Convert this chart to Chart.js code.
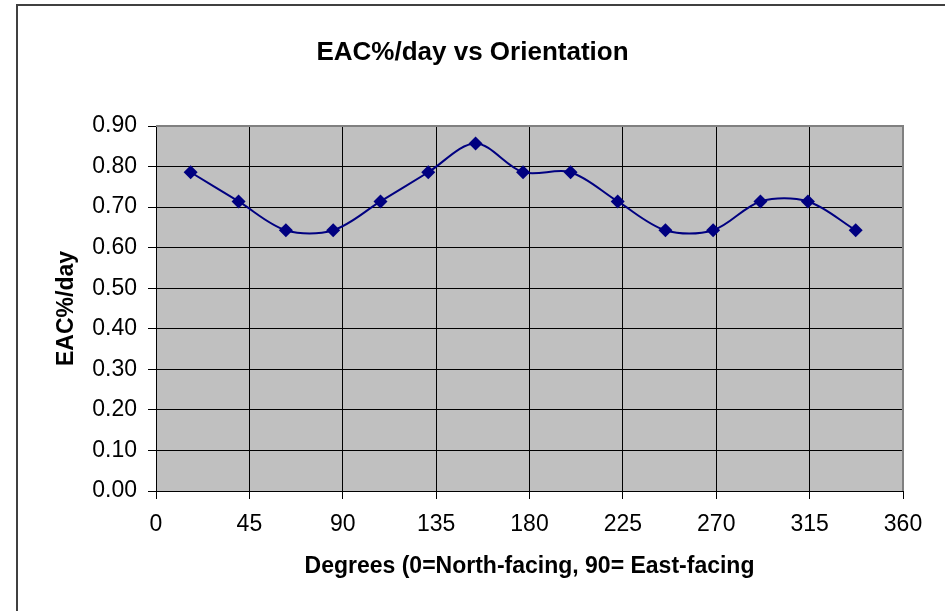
<!DOCTYPE html>
<html>
<head>
<meta charset="utf-8">
<script src="https://cdn.jsdelivr.net/npm/chart.js@4/dist/chart.umd.min.js"></script>
<style>
  body { margin: 0; background: #fff; }
  #wrap { width: 945px; height: 611px; }
</style>
</head>
<body>
<div id="wrap"><canvas id="orientChart" width="945" height="611"></canvas></div>
<script>
// orientation in degrees (0 = north-facing)
var degrees = [16.7, 39.8, 62.6, 85.4, 108.2, 131.2, 154, 176.9, 199.8, 222.5, 245.5, 268.5, 291.3, 314.2, 337.2];
// EAC%/day
var eacPerDay = [0.786, 0.714, 0.643, 0.643, 0.714, 0.786, 0.857, 0.786, 0.786, 0.714, 0.643, 0.643, 0.714, 0.714, 0.643];
var xTicks = [0, 45, 90, 135, 180, 225, 270, 315, 360];
var yTicks = [0, 0.1, 0.2, 0.3, 0.4, 0.5, 0.6, 0.7, 0.8, 0.9];

var chartTitle = 'EAC%/day vs Orientation';
var xTitle = 'Degrees (0=North-facing, 90= East-facing';
var yTitle = 'EAC%/day';

var FONT = "'Liberation Sans', Arial, sans-serif";

var points = degrees.map(function (d, i) {
    return { x: d, y: eacPerDay[i] };
});

// grey plot background, frame round the chart and the title
var excelLook = {
    id: 'excelLook',
    beforeDraw: function (chart) {
        var ctx = chart.ctx, a = chart.chartArea;
        ctx.save();
        ctx.fillStyle = '#fff';
        ctx.fillRect(0, 0, chart.width, chart.height);
        ctx.fillStyle = '#c0c0c0';
        ctx.fillRect(a.left, a.top, a.right - a.left, a.bottom - a.top);
        ctx.restore();
    },
    afterDraw: function (chart) {
        var ctx = chart.ctx, a = chart.chartArea;
        ctx.save();
        // plot area top/right edge
        ctx.strokeStyle = '#808080';
        ctx.lineWidth = 2;
        ctx.beginPath();
        ctx.moveTo(a.left, a.top);
        ctx.lineTo(a.right, a.top);
        ctx.lineTo(a.right, a.bottom);
        ctx.stroke();
        // outer frame
        ctx.strokeStyle = '#404040';
        ctx.lineWidth = 2;
        ctx.beginPath();
        ctx.moveTo(17, 611);
        ctx.lineTo(17, 5);
        ctx.lineTo(945, 5);
        ctx.stroke();
        // title
        ctx.fillStyle = '#000';
        ctx.font = 'bold 26px ' + FONT;
        ctx.textAlign = 'center';
        ctx.textBaseline = 'middle';
        ctx.fillText(chartTitle, 472.5, 53);
        ctx.restore();
    }
};

new Chart(document.getElementById('orientChart'), {
    type: 'scatter',
    data: {
        datasets: [{
            label: yTitle,
            data: points,
            showLine: true,
            tension: 0.33,
            borderColor: '#000080',
            borderWidth: 2,
            backgroundColor: '#000080',
            pointStyle: 'rectRot',
            pointRadius: 7,
            pointHoverRadius: 7,
            pointBorderWidth: 0
        }]
    },
    options: {
        responsive: false,
        animation: false,
        layout: {
            padding: { top: 126, right: 42, left: 0, bottom: 0 }
        },
        plugins: {
            legend: { display: false },
            tooltip: { enabled: false }
        },
        scales: {
            x: {
                type: 'linear',
                min: 0,
                max: 360,
                afterFit: function (scale) { scale.height = 120; },
                afterBuildTicks: function (scale) {
                    scale.ticks = xTicks.map(function (v) { return { value: v }; });
                },
                ticks: {
                    color: '#000',
                    font: { family: FONT, size: 23 },
                    padding: 12,
                    callback: function (v) { return v; }
                },
                grid: { color: '#000', lineWidth: 1, tickLength: 8 },
                border: { color: '#000', width: 1 },
                title: {
                    display: true,
                    text: xTitle,
                    color: '#000',
                    font: { family: FONT, size: 23, weight: 'bold' },
                    padding: { top: 0, bottom: 31 }
                }
            },
            y: {
                min: 0,
                max: 0.9,
                afterFit: function (scale) { scale.width = 156; },
                afterBuildTicks: function (scale) {
                    scale.ticks = yTicks.map(function (v) { return { value: v }; });
                },
                ticks: {
                    color: '#000',
                    font: { family: FONT, size: 23 },
                    padding: 11,
                    callback: function (v) { return Number(v).toFixed(2); }
                },
                grid: { color: '#000', lineWidth: 1, tickLength: 8 },
                border: { color: '#000', width: 1 },
                title: {
                    display: true,
                    text: yTitle,
                    color: '#000',
                    font: { family: FONT, size: 23, weight: 'bold' },
                    padding: { top: 53, bottom: 0 }
                }
            }
        }
    },
    plugins: [excelLook]
});
</script>
</body>
</html>
